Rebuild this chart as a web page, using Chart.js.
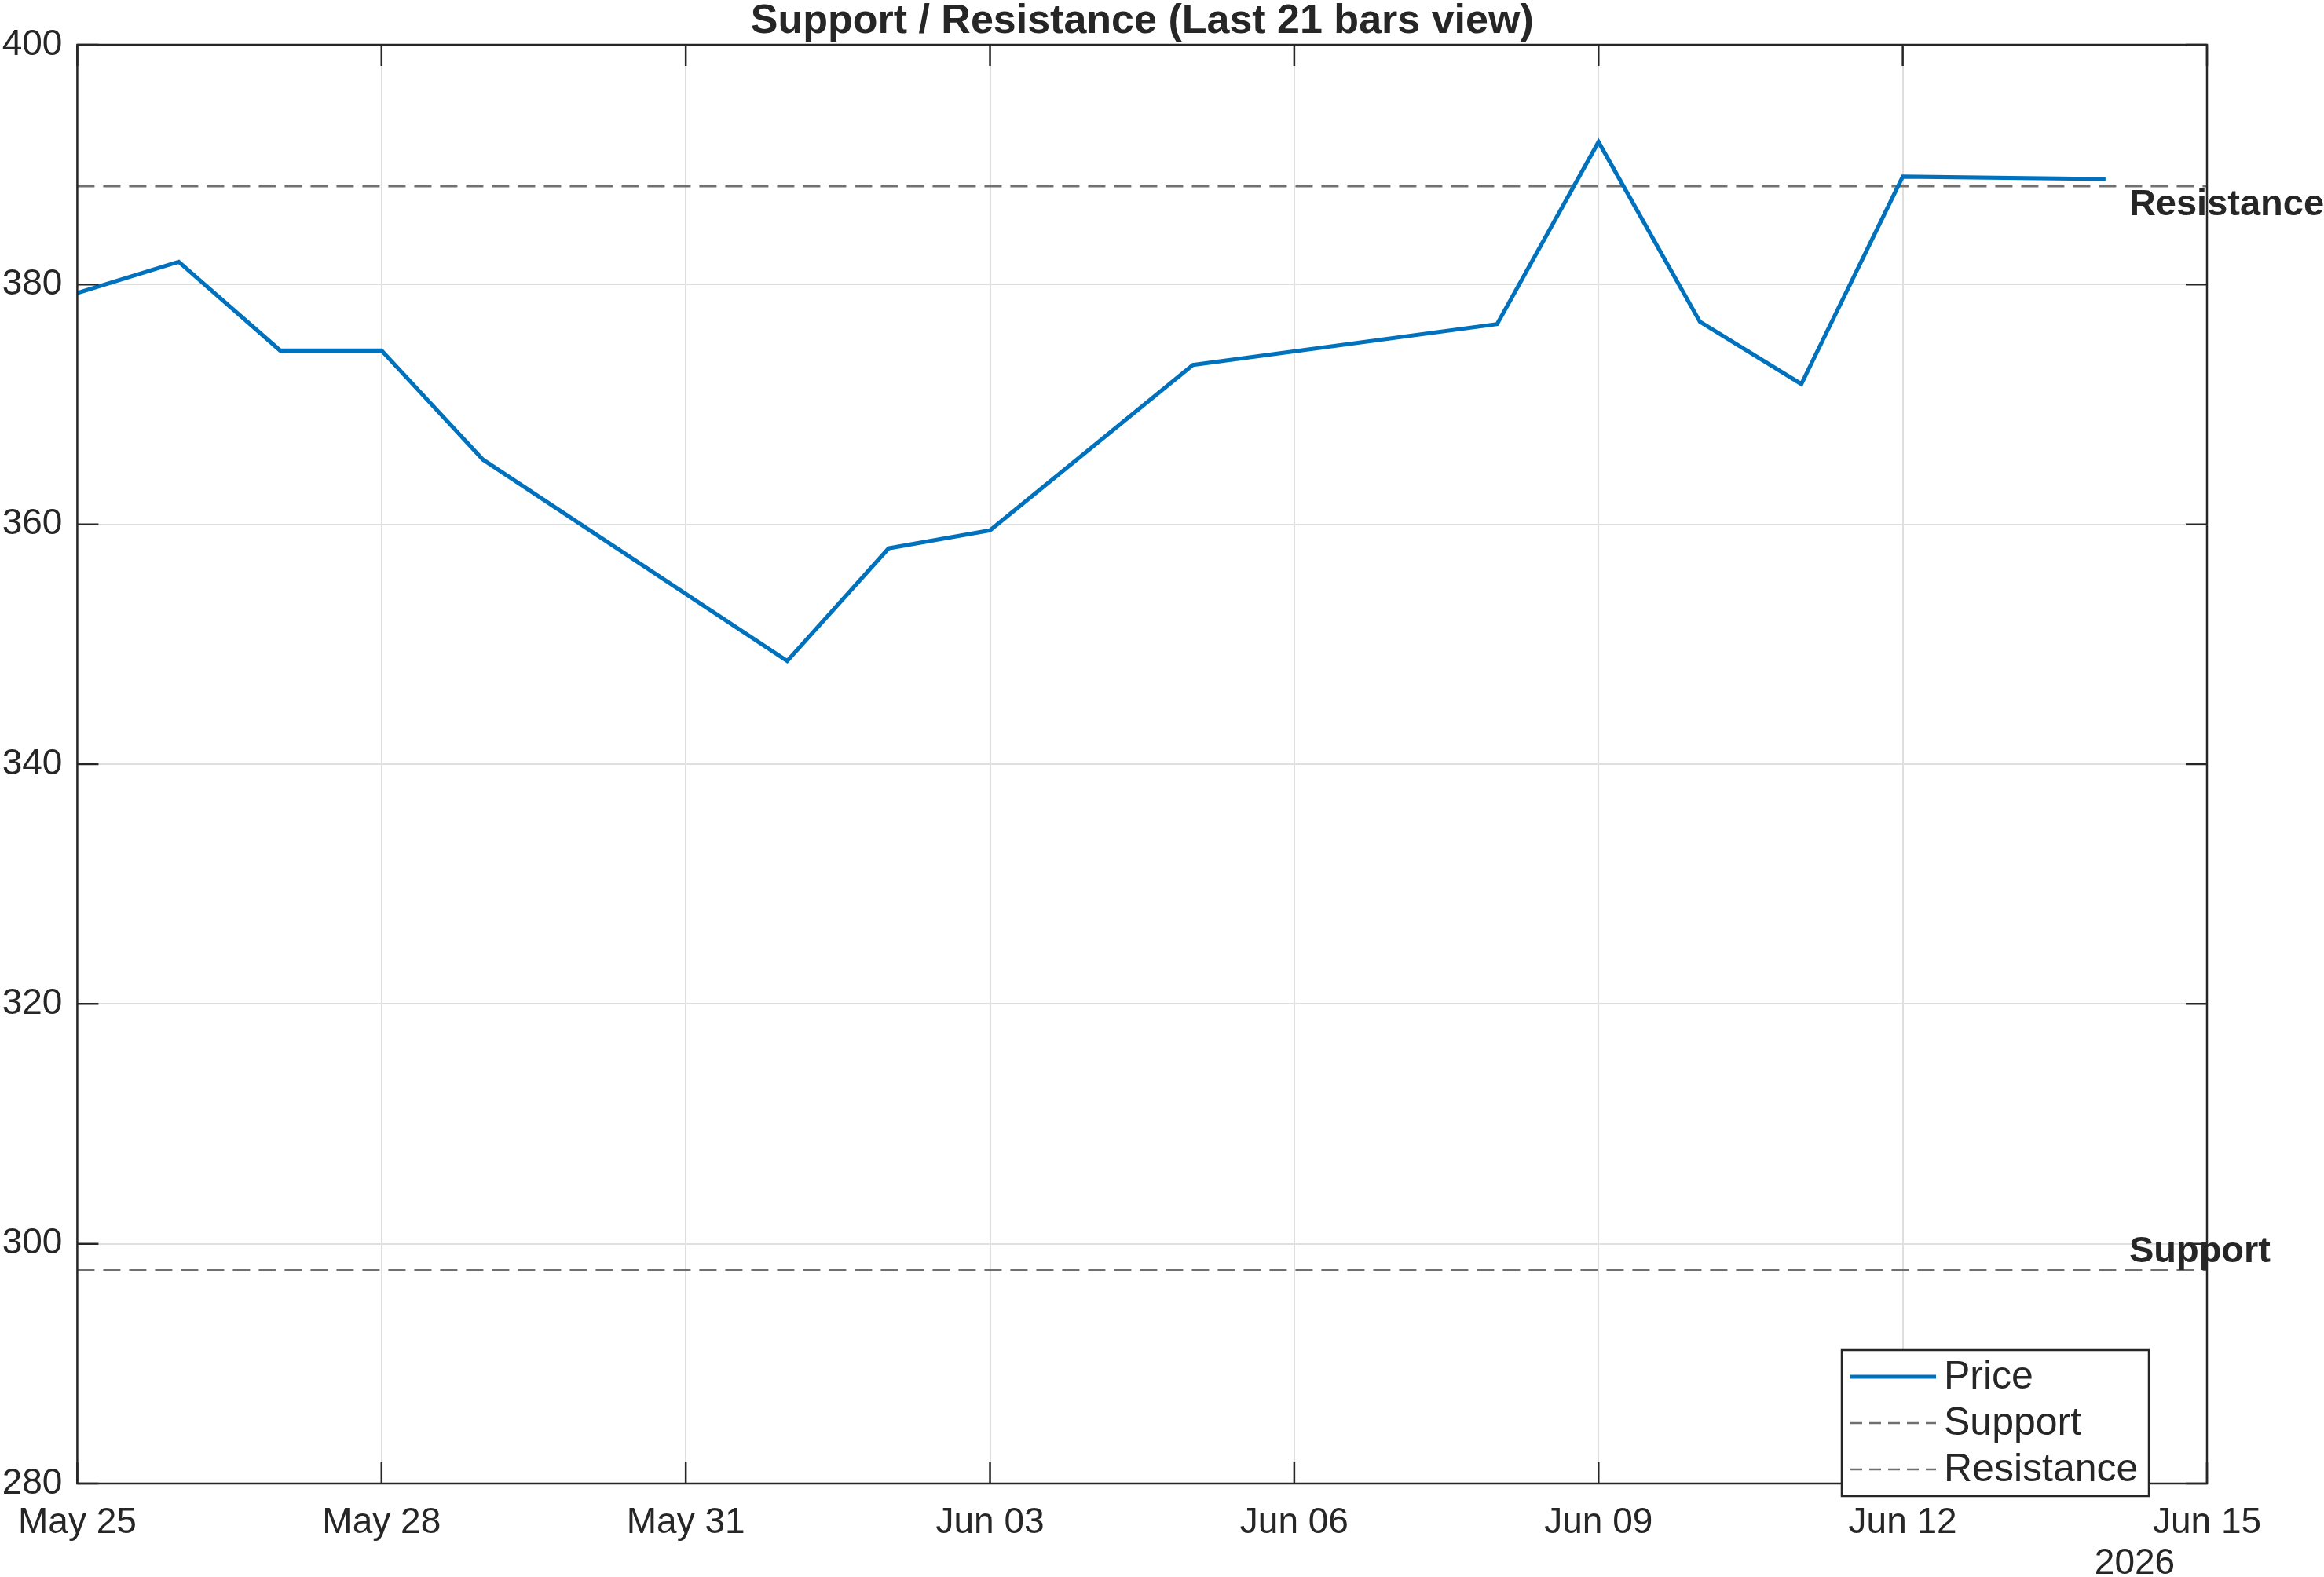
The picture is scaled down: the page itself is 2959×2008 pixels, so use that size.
<!DOCTYPE html>
<html>
<head>
<meta charset="utf-8">
<script src="https://cdn.jsdelivr.net/npm/chart.js@4.4.1/dist/chart.umd.min.js"></script>
<style>
  html, body { margin: 0; padding: 0; background: #fff; }
  canvas { display: block; }
</style>
</head>
<body>
<canvas id="srChart" width="2959" height="2008"></canvas>
<script>
// DATA
const dates = ["2026-05-25", "2026-05-26", "2026-05-27", "2026-05-28", "2026-05-29",
               "2026-06-01", "2026-06-02", "2026-06-03", "2026-06-05", "2026-06-08",
               "2026-06-09", "2026-06-10", "2026-06-11", "2026-06-12", "2026-06-14"];
const price = [379.3, 381.9, 374.5, 374.5, 365.4,
               348.6, 358.0, 359.5, 373.3, 376.7,
               391.9, 376.9, 371.7, 389.0, 388.8];
const supportLevel = 297.8;
const resistanceLevel = 388.2;
const xRange = ["2026-05-25", "2026-06-15"];
const xTickStepDays = 3;
const yRange = [280, 400];
const yTickStep = 20;
const yearLabel = "2026";
const titleText = "Support / Resistance (Last 21 bars view)";

const MONTHS = ["Jan", "Feb", "Mar", "Apr", "May", "Jun", "Jul", "Aug", "Sep", "Oct", "Nov", "Dec"];
const DAY = 86400000;
function toDay(s) {
    const p = s.split("-").map(Number);
    return Date.UTC(p[0], p[1] - 1, p[2]) / DAY;
}
function dayLabel(v) {
    const d = new Date(Math.round(v) * DAY);
    return MONTHS[d.getUTCMonth()] + " " + String(d.getUTCDate()).padStart(2, "0");
}

const xMin = toDay(xRange[0]);
const xMax = toDay(xRange[1]);
const INK = "#262626";
const DASH_COLOR = "#707070";
const FONT = "'Liberation Sans', Arial, Helvetica, sans-serif";
Chart.defaults.font.family = FONT;
Chart.defaults.color = INK;

// title over the plot area, axes box, inward ticks, level labels, year, legend
const matlabLook = {
    id: "matlabLook",
    beforeDraw(chart) {
        const c = chart.ctx;
        c.save();
        c.fillStyle = "#fff";
        c.fillRect(0, 0, chart.width, chart.height);
        c.restore();
    },
    afterDatasetsDraw(chart) {
        const c = chart.ctx;
        const a = chart.chartArea;
        const xs = chart.scales.x, ys = chart.scales.y;
        c.save();

        // title
        c.font = "bold 52px " + FONT;
        c.fillStyle = INK;
        c.textAlign = "center";
        c.textBaseline = "alphabetic";
        c.fillText(titleText, (a.left + a.right) / 2, a.top - 15);

        // level labels
        c.font = "bold 47px " + FONT;
        c.textAlign = "left";
        const lx = xs.getPixelForValue(toDay(dates[dates.length - 1])) + 30;
        c.textBaseline = "top";
        c.fillText("Resistance", lx, ys.getPixelForValue(resistanceLevel));
        c.textBaseline = "bottom";
        c.fillText("Support", lx, ys.getPixelForValue(supportLevel));

        // box
        c.strokeStyle = INK;
        c.lineWidth = 2.5;
        c.strokeRect(a.left, a.top, a.right - a.left, a.bottom - a.top);

        // inward tick marks
        const tl = 27;
        c.beginPath();
        ys.ticks.forEach(t => {
            const y = ys.getPixelForValue(t.value);
            c.moveTo(a.left, y); c.lineTo(a.left + tl, y);
            c.moveTo(a.right, y); c.lineTo(a.right - tl, y);
        });
        xs.ticks.forEach(t => {
            const x = xs.getPixelForValue(t.value);
            c.moveTo(x, a.bottom); c.lineTo(x, a.bottom - tl);
            c.moveTo(x, a.top); c.lineTo(x, a.top + tl);
        });
        c.stroke();

        // year under the axis
        c.font = "46px " + FONT;
        c.textAlign = "center";
        c.textBaseline = "alphabetic";
        c.fillText(yearLabel, a.right - 92, a.bottom + 115);

        // legend
        const lw = 391, lh = 186;
        const lr = a.right - 74, lb = a.bottom + 16;
        const L = lr - lw, T = lb - lh;
        c.fillStyle = "#fff";
        c.fillRect(L, T, lw, lh);
        c.strokeStyle = INK;
        c.lineWidth = 2.5;
        c.strokeRect(L, T, lw, lh);
        c.font = "50px " + FONT;
        c.textAlign = "left";
        c.textBaseline = "middle";
        chart.data.datasets.forEach((ds, i) => {
            const y = T + 34 + i * 59;
            c.beginPath();
            c.strokeStyle = ds.borderColor;
            c.lineWidth = ds.borderWidth;
            c.setLineDash(ds.borderDash && ds.borderDash.length ? [15, 9] : []);
            c.moveTo(L + 11, y);
            c.lineTo(L + 120, y);
            c.stroke();
            c.setLineDash([]);
            c.fillStyle = INK;
            c.fillText(ds.label, L + 130, y + 1);
        });
        c.restore();
    }
};

new Chart(document.getElementById("srChart"), {
    type: "line",
    data: {
        datasets: [{
            label: "Price",
            data: dates.map((d, i) => ({ x: toDay(d), y: price[i] })),
            borderColor: "#0072BD",
            borderWidth: 5.2,
            pointRadius: 0,
            tension: 0
        }, {
            label: "Support",
            data: [{ x: xMin, y: supportLevel }, { x: xMax, y: supportLevel }],
            borderColor: DASH_COLOR,
            borderWidth: 2.5,
            borderDash: [22, 11],
            pointRadius: 0
        }, {
            label: "Resistance",
            data: [{ x: xMin, y: resistanceLevel }, { x: xMax, y: resistanceLevel }],
            borderColor: DASH_COLOR,
            borderWidth: 2.5,
            borderDash: [22, 11],
            pointRadius: 0
        }]
    },
    options: {
        responsive: false,
        animation: false,
        devicePixelRatio: 1,
        layout: { padding: { left: 0, right: 149, top: 57, bottom: 0 } },
        plugins: {
            legend: { display: false },
            tooltip: { enabled: false },
            title: { display: false }
        },
        scales: {
            x: {
                type: "linear",
                min: xMin,
                max: xMax,
                afterFit(s) { s.height = 119; },
                ticks: {
                    stepSize: xTickStepDays,
                    font: { size: 46 },
                    color: INK,
                    padding: 23,
                    maxRotation: 0,
                    autoSkip: false,
                    callback: v => dayLabel(v)
                },
                grid: { color: "#dfdfdf", lineWidth: 2, drawTicks: false },
                border: { display: false }
            },
            y: {
                min: yRange[0],
                max: yRange[1],
                afterFit(s) { s.width = 96; },
                ticks: {
                    stepSize: yTickStep,
                    font: { size: 46 },
                    color: INK,
                    padding: 19
                },
                grid: { color: "#dfdfdf", lineWidth: 2, drawTicks: false },
                border: { display: false }
            }
        }
    },
    plugins: [matlabLook]
});
</script>
</body>
</html>
